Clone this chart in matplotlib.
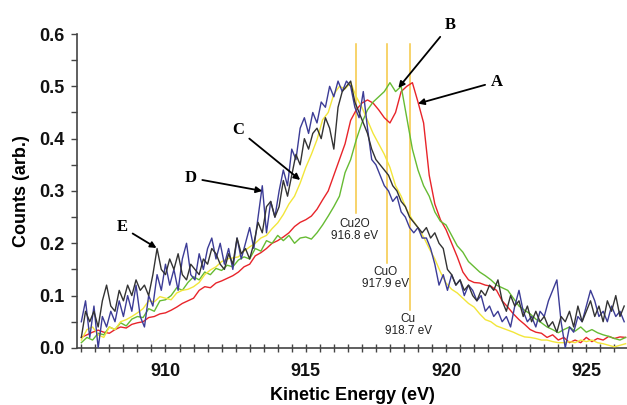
import numpy as np
import matplotlib
matplotlib.use("Agg")
import matplotlib.pyplot as plt
from matplotlib.ticker import MultipleLocator

# Cu LMM Auger spectra
# smooth series: step 0.2 eV starting at 907.0 eV
red_A = [0.020, 0.025, 0.030, 0.034, 0.030, 0.028, 0.035, 0.040, 0.038, 0.045,
         0.048, 0.050, 0.058, 0.060, 0.065, 0.067, 0.072, 0.078, 0.085, 0.090,
         0.095, 0.110, 0.117, 0.115, 0.124, 0.128, 0.133, 0.138, 0.145, 0.155,
         0.160, 0.176, 0.182, 0.190, 0.200, 0.205, 0.212, 0.220, 0.232, 0.240,
         0.245, 0.252, 0.265, 0.283, 0.300, 0.330, 0.360, 0.390, 0.435, 0.455,
         0.468, 0.474, 0.468, 0.455, 0.440, 0.430, 0.450, 0.490, 0.500, 0.507,
         0.470, 0.430, 0.330, 0.275, 0.245, 0.226, 0.200, 0.174, 0.145, 0.130,
         0.125, 0.124, 0.120, 0.118, 0.110, 0.090, 0.078, 0.065, 0.054, 0.045,
         0.035, 0.030, 0.028, 0.020, 0.025, 0.015, 0.020, 0.010, 0.015, 0.010,
         0.020, 0.012, 0.018, 0.015, 0.022, 0.018, 0.021, 0.020]

green_B = [0.010, 0.020, 0.015, 0.028, 0.025, 0.040, 0.035, 0.048, 0.042, 0.055,
           0.060, 0.058, 0.075, 0.070, 0.090, 0.092, 0.100, 0.115, 0.110, 0.125,
           0.136, 0.130, 0.145, 0.140, 0.152, 0.148, 0.158, 0.155, 0.168, 0.174,
           0.170, 0.190, 0.185, 0.205, 0.200, 0.215, 0.205, 0.215, 0.200, 0.210,
           0.212, 0.208, 0.220, 0.235, 0.252, 0.270, 0.290, 0.335, 0.360, 0.398,
           0.430, 0.455, 0.470, 0.480, 0.490, 0.507, 0.490, 0.500, 0.440, 0.380,
           0.340, 0.310, 0.290, 0.260, 0.242, 0.235, 0.215, 0.195, 0.183, 0.165,
           0.155, 0.145, 0.138, 0.130, 0.120, 0.115, 0.110, 0.095, 0.080, 0.072,
           0.065, 0.055, 0.048, 0.040, 0.035, 0.029, 0.035, 0.040, 0.032, 0.040,
           0.030, 0.035, 0.029, 0.025, 0.022, 0.018, 0.015, 0.020]

yellow_C = [0.015, 0.035, 0.040, 0.025, 0.020, 0.040, 0.035, 0.050, 0.054, 0.060,
            0.067, 0.075, 0.090, 0.088, 0.098, 0.095, 0.092, 0.105, 0.110, 0.112,
            0.117, 0.125, 0.140, 0.149, 0.155, 0.165, 0.170, 0.172, 0.174, 0.185,
            0.193, 0.200, 0.210, 0.215, 0.228, 0.239, 0.255, 0.275, 0.290, 0.315,
            0.345, 0.370, 0.398, 0.436, 0.450, 0.485, 0.500, 0.495, 0.507, 0.480,
            0.460, 0.435, 0.410, 0.390, 0.370, 0.345, 0.310, 0.290, 0.264, 0.245,
            0.230, 0.212, 0.190, 0.170, 0.145, 0.124, 0.112, 0.105, 0.095, 0.085,
            0.078, 0.065, 0.054, 0.050, 0.042, 0.038, 0.034, 0.030, 0.025, 0.021,
            0.020, 0.018, 0.015, 0.015, 0.012, 0.010, 0.010, 0.012, 0.010, 0.015,
            0.012, 0.015, 0.010, 0.008, 0.005, 0.002, 0.005, 0.008]

# noisy series: step 0.15 eV starting at 907.0 eV
blue_D = [0.05, 0.09, 0.02, 0.08, 0.00, 0.06, 0.04, 0.07, 0.05, 0.09,
          0.06, 0.10, 0.07, 0.12, 0.06, 0.04, 0.10, 0.08, 0.14, 0.11,
          0.16, 0.12, 0.15, 0.11, 0.17, 0.20, 0.14, 0.13, 0.18, 0.15,
          0.19, 0.21, 0.17, 0.20, 0.16, 0.19, 0.15, 0.21, 0.17, 0.20,
          0.23, 0.19, 0.25, 0.31, 0.22, 0.28, 0.25, 0.30, 0.34, 0.31,
          0.38, 0.36, 0.42, 0.44, 0.41, 0.45, 0.43, 0.47, 0.46, 0.50,
          0.48, 0.51, 0.49, 0.51, 0.50, 0.46, 0.44, 0.49, 0.42, 0.36,
          0.35, 0.33, 0.31, 0.30, 0.28, 0.29, 0.26, 0.25, 0.23, 0.22,
          0.23, 0.21, 0.21, 0.19, 0.16, 0.12, 0.14, 0.11, 0.14, 0.12,
          0.13, 0.10, 0.12, 0.11, 0.09, 0.10, 0.07, 0.08, 0.06, 0.07,
          0.05, 0.06, 0.04, 0.08, 0.11, 0.07, 0.05, 0.06, 0.04, 0.07,
          0.06, 0.09, 0.11, 0.13, 0.05, 0.00, 0.04, 0.03, 0.06, 0.05,
          0.08, 0.11, 0.09, 0.06, 0.07, 0.05, 0.08, 0.06, 0.07, 0.05]

black_E = [0.02, 0.07, 0.05, 0.07, 0.04, 0.09, 0.12, 0.08, 0.07, 0.11,
           0.09, 0.12, 0.10, 0.13, 0.11, 0.12, 0.10, 0.14, 0.19, 0.15,
           0.14, 0.17, 0.15, 0.18, 0.14, 0.13, 0.16, 0.15, 0.14, 0.17,
           0.16, 0.19, 0.18, 0.16, 0.15, 0.18, 0.16, 0.21, 0.18, 0.19,
           0.17, 0.20, 0.24, 0.22, 0.27, 0.28, 0.25, 0.27, 0.32, 0.29,
           0.33, 0.37, 0.35, 0.40, 0.38, 0.41, 0.42, 0.40, 0.44, 0.42,
           0.38, 0.46, 0.49, 0.50, 0.51, 0.47, 0.45, 0.43, 0.41, 0.38,
           0.36, 0.35, 0.34, 0.33, 0.31, 0.30, 0.28, 0.27, 0.25, 0.24,
           0.23, 0.22, 0.23, 0.21, 0.22, 0.20, 0.19, 0.15, 0.14, 0.12,
           0.13, 0.11, 0.12, 0.10, 0.09, 0.11, 0.10, 0.12, 0.11, 0.13,
           0.09, 0.07, 0.10, 0.08, 0.09, 0.06, 0.08, 0.05, 0.07, 0.05,
           0.06, 0.04, 0.05, 0.03, 0.06, 0.05, 0.07, 0.04, 0.08, 0.05,
           0.07, 0.09, 0.06, 0.08, 0.05, 0.09, 0.07, 0.10, 0.06, 0.08]

# reference lines (eV), with label text
ref_pos = [916.8, 917.9, 918.7]
ref_names = ["Cu2O\n916.8 eV", "CuO\n917.9 eV", "Cu\n918.7 eV"]
ref_bottom = [0.258, 0.163, 0.073]
ref_label_y = [0.226, 0.133, 0.043]

# letter labels: (letter, text pos, arrow tip)
letters = ["A", "B", "C", "D", "E"]
letter_xy = [(921.8, 0.509), (920.15, 0.618), (912.6, 0.417), (910.9, 0.325), (908.45, 0.231)]
tip_xy = [(919.0, 0.467), (918.3, 0.497), (914.8, 0.321), (913.45, 0.300), (909.68, 0.191)]

x_smooth = 907.0 + 0.2 * np.arange(len(red_A))
x_noisy = 907.0 + 0.15 * np.arange(len(blue_D))

fig = plt.figure(figsize=(6.27, 4.05), dpi=100)
ax = fig.add_axes([0.123, 0.141, 0.877, 0.775])

for xp, yb in zip(ref_pos, ref_bottom):
    ax.plot([xp, xp], [yb, 0.581], color="#f5c842", lw=1.1, zorder=1)

ax.plot(x_smooth, red_A, color="#e8242a", lw=1.0, zorder=2)
ax.plot(x_smooth, green_B, color="#66bb33", lw=1.0, zorder=2)
ax.plot(x_smooth, yellow_C, color="#f2e63a", lw=1.0, zorder=3)
ax.plot(x_noisy, blue_D, color="#3c3c96", lw=1.0, zorder=4)
ax.plot(x_noisy, black_E, color="#333333", lw=1.0, zorder=5)

for xp, name, ly in zip(ref_pos, ref_names, ref_label_y):
    ax.text(xp - 0.05, ly, name, ha="center", va="center", fontsize=8.5,
            family="Liberation Sans", color="#222222", linespacing=1.0, zorder=6)

for let, txy, tip in zip(letters, letter_xy, tip_xy):
    ax.annotate(let, xy=tip, xytext=txy, annotation_clip=False,
                fontsize=12, fontweight="bold", family="Liberation Serif",
                ha="center", va="center", zorder=7,
                arrowprops=dict(arrowstyle="-|>", color="black", lw=1.3,
                                mutation_scale=9, shrinkA=2, shrinkB=0))

ax.set_xlim(906.85, 926.45)
ax.set_ylim(0, 0.6)
ax.spines["top"].set_visible(False)
ax.spines["right"].set_visible(False)
for s in ("left", "bottom"):
    ax.spines[s].set_color("#444444")
    ax.spines[s].set_linewidth(1.2)

ax.xaxis.set_major_locator(MultipleLocator(5))
ax.xaxis.set_minor_locator(MultipleLocator(0.5))
ax.yaxis.set_major_locator(MultipleLocator(0.1))
ax.yaxis.set_minor_locator(MultipleLocator(0.05))
ax.tick_params(axis="x", which="both", direction="inout", length=6, width=1,
               color="#444444", pad=8)
ax.tick_params(axis="y", which="both", direction="out", length=4, width=1,
               color="#444444", pad=5)
ax.yaxis.set_major_formatter(plt.FuncFormatter(lambda v, p: f"{v:.1f}"))
for lab in ax.get_xticklabels() + ax.get_yticklabels():
    lab.set_fontweight("bold")
    lab.set_fontsize(13)
    lab.set_family("Liberation Sans")
    lab.set_color("#111111")

ax.set_xlabel("Kinetic Energy (eV)", fontsize=13, fontweight="bold",
              family="Liberation Sans", labelpad=5)
ax.set_ylabel("Counts (arb.)", fontsize=13, fontweight="bold",
              family="Liberation Sans", labelpad=7)

fig.savefig("out.png", dpi=100)
